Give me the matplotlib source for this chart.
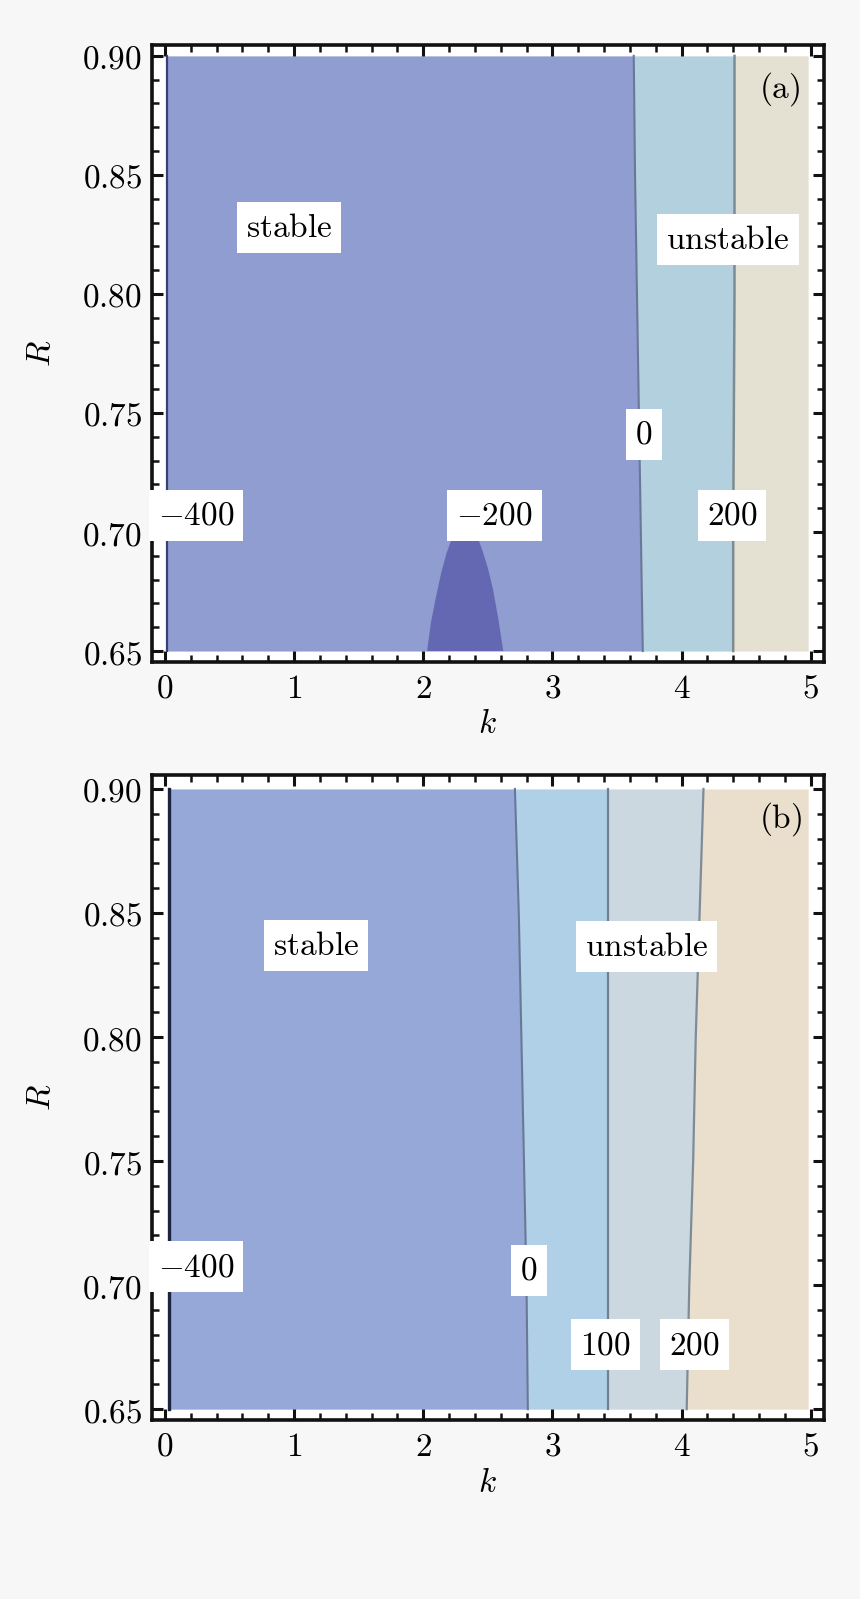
import numpy as np
import matplotlib
matplotlib.use("Agg")
import matplotlib.pyplot as plt
from matplotlib.ticker import MultipleLocator, FixedLocator, FixedFormatter

plt.rcParams['mathtext.fontset'] = 'cm'

# ---------------- data ----------------
R_samples = [0.65, 0.70, 0.75, 0.80, 0.85, 0.90]

# panel (a): contour positions k(R)
a_k_m400 = [0.02, 0.02, 0.02, 0.02, 0.02, 0.02]
a_k_0 = [3.70, 3.685, 3.67, 3.655, 3.64, 3.63]
a_k_200 = [4.40, 4.40, 4.405, 4.41, 4.41, 4.41]
a_k_end = [4.98, 4.98, 4.98, 4.98, 4.98, 4.98]
# panel (a): -200 closed region (outline)
a_blob_k = [2.03, 2.06, 2.10, 2.14, 2.18, 2.22, 2.26, 2.30, 2.34, 2.38,
            2.42, 2.46, 2.50, 2.54, 2.58, 2.62]
a_blob_R = [0.650, 0.662, 0.673, 0.683, 0.691, 0.697, 0.7005, 0.7025, 0.703, 0.701,
            0.698, 0.692, 0.685, 0.676, 0.664, 0.650]

# panel (b): contour positions k(R)
b_k_m400 = [0.03, 0.03, 0.03, 0.03, 0.03, 0.03]
b_k_0 = [2.81, 2.80, 2.78, 2.76, 2.74, 2.71]
b_k_100 = [3.43, 3.43, 3.43, 3.43, 3.43, 3.43]
b_k_200 = [4.04, 4.06, 4.09, 4.11, 4.14, 4.17]
b_k_end = [4.98, 4.98, 4.98, 4.98, 4.98, 4.98]

# labels: (text, k, R)
a_labels = [(r'$-400$', 0.24, 0.707), (r'$-200$', 2.55, 0.707),
            (r'$0$', 3.71, 0.741), (r'$200$', 4.39, 0.707)]
a_region_labels = [(r'$\mathrm{stable}$', 0.96, 0.828), (r'$\mathrm{unstable}$', 4.36, 0.823)]
b_labels = [(r'$-400$', 0.24, 0.7075), (r'$0$', 2.82, 0.706),
            (r'$100$', 3.41, 0.676), (r'$200$', 4.10, 0.676)]
b_region_labels = [(r'$\mathrm{stable}$', 1.17, 0.837), (r'$\mathrm{unstable}$', 3.73, 0.8365)]

x_ticks = [0, 1, 2, 3, 4, 5]
y_ticks = [0.65, 0.70, 0.75, 0.80, 0.85, 0.90]
y_ticklabels = ['0.65', '0.70', '0.75', '0.80', '0.85', '0.90']

# ---------------- figure ----------------
fig = plt.figure(figsize=(8.6, 15.99), dpi=100, facecolor='#f7f7f7')
ax_a = fig.add_axes([0.1767, 0.586, 0.781, 0.3859])
ax_b = fig.add_axes([0.1767, 0.1119, 0.781, 0.4034])

fs = 24


def style(ax, ylim):
    ax.set_facecolor('white')
    ax.set_xlim(-0.1, 5.1)
    ax.set_ylim(*ylim)
    for s in ax.spines.values():
        s.set_linewidth(2.6)
        s.set_color('#111111')
    ax.xaxis.set_major_locator(FixedLocator(x_ticks))
    ax.xaxis.set_major_formatter(FixedFormatter(['$%d$' % v for v in x_ticks]))
    ax.xaxis.set_minor_locator(MultipleLocator(0.2))
    ax.yaxis.set_major_locator(FixedLocator(y_ticks))
    ax.yaxis.set_major_formatter(FixedFormatter(['$%s$' % t for t in y_ticklabels]))
    ax.yaxis.set_minor_locator(MultipleLocator(0.01))
    ax.tick_params(which='both', direction='in', top=True, right=True,
                   color='#111111', labelsize=fs)
    ax.tick_params(which='major', length=8, width=2.2, pad=7)
    ax.tick_params(which='minor', length=5, width=1.8)
    ax.set_xlabel(r'$k$', fontsize=fs, labelpad=2)
    ax.set_ylabel(r'$R$', fontsize=fs, labelpad=18)


def label(ax, txt, k, R, size=fs):
    ax.text(k, R, txt, fontsize=size, ha='center', va='center', zorder=10,
            bbox=dict(boxstyle='square,pad=0.27', fc='white', ec='none'))


# ---- panel (a)
ax = ax_a
ax.fill_betweenx(R_samples, a_k_m400, a_k_0, color='#8f9dd0', lw=0, zorder=1)
ax.fill_betweenx(R_samples, a_k_0, a_k_200, color='#b3d0df', lw=0, zorder=1)
ax.fill_betweenx(R_samples, a_k_200, a_k_end, color='#e4e0d2', lw=0, zorder=1)
ax.fill(a_blob_k, a_blob_R, color='#6468b2', lw=0, zorder=2)
ax.plot(a_k_m400, R_samples, color='#3a3f78', lw=1.6, zorder=3)
ax.plot(a_k_0, R_samples, color='#6a7898', lw=1.5, zorder=3)
ax.plot(a_k_200, R_samples, color='#7d8c90', lw=1.8, zorder=3)
for t, k, R in a_labels:
    label(ax, t, k, R)
for t, k, R in a_region_labels:
    label(ax, t, k, R)
ax.text(4.76, 0.886, r'$\mathrm{(a)}$', fontsize=fs, ha='center', va='center', zorder=10)
style(ax, (0.6454, 0.9046))

# ---- panel (b)
ax = ax_b
ax.fill_betweenx(R_samples, b_k_m400, b_k_0, color='#96a8d7', lw=0, zorder=1)
ax.fill_betweenx(R_samples, b_k_0, b_k_100, color='#afd0e6', lw=0, zorder=1)
ax.fill_betweenx(R_samples, b_k_100, b_k_200, color='#cbd8e0', lw=0, zorder=1)
ax.fill_betweenx(R_samples, b_k_200, b_k_end, color='#eadfcc', lw=0, zorder=1)
ax.plot(b_k_m400, R_samples, color='#1e2440', lw=2.4, zorder=3)
ax.plot(b_k_0, R_samples, color='#6a7898', lw=1.5, zorder=3)
ax.plot(b_k_100, R_samples, color='#6f8090', lw=1.6, zorder=3)
ax.plot(b_k_200, R_samples, color='#7d8c98', lw=1.6, zorder=3)
for t, k, R in b_labels:
    label(ax, t, k, R)
for t, k, R in b_region_labels:
    label(ax, t, k, R)
ax.text(4.77, 0.888, r'$\mathrm{(b)}$', fontsize=fs, ha='center', va='center', zorder=10)
style(ax, (0.6456, 0.9056))

fig.savefig('out.png', dpi=100, facecolor=fig.get_facecolor())
